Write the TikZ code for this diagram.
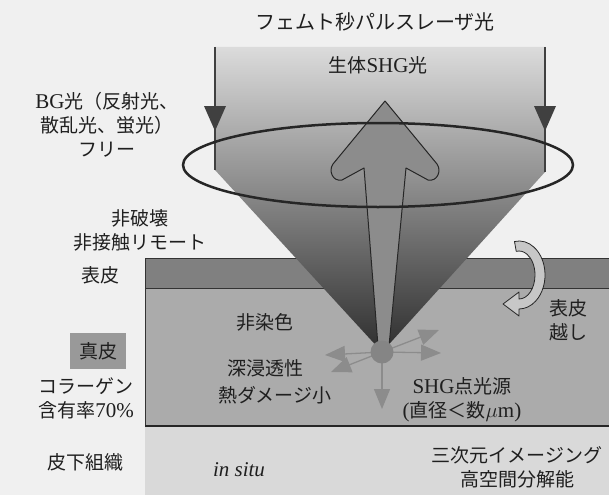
\documentclass[tikz,border=0pt]{standalone}
\usepackage{fontspec}
\setmainfont{Liberation Serif}
\newfontfamily\jp{Noto Sans CJK JP}
\newcommand\latn[1]{{\rmfamily\fontsize{21}{24}\selectfont #1}}
\usetikzlibrary{arrows.meta}
\begin{document}
\begin{tikzpicture}[x=1pt,y=-1pt,
  lbl/.style={font={\jp\fontsize{19}{24}\selectfont}, align=center, inner sep=0pt, text=black!88},
  layer/.style={draw=black!80, line width=0.6pt},
  sarrow/.style={black!45, line width=1.3pt, -{Triangle[length=20pt,width=16pt]}},
  pointer/.style={fill=black!75, draw=none}]
\useasboundingbox (0,0) rectangle (609,495);
\fill[black!6] (0,0) rectangle (609,495);

% skin layers
\fill[black!15] (145,426) rectangle (609,495);
\filldraw[layer, fill=black!33] (145,288) rectangle (609,426);
\filldraw[layer, fill=black!50] (145,258) rectangle (609,288);
\draw[black!85, line width=1.5pt] (145,426) -- (609,426);

% focused laser beam
\shade[top color=black!14, middle color=black!42, bottom color=black!82]
  (215,47) -- (545,47) -- (545,172) -- (382,352) -- (215,170) -- cycle;
\draw[line width=2pt, black!75] (215,47) -- (215,170);
\draw[line width=2pt, black!75] (545,47) -- (545,172);
\fill[pointer] (204,106) -- (226,106) -- (215,131) -- cycle;
\fill[pointer] (534,106) -- (556,106) -- (545,131) -- cycle;

% SHG signal arrow
\filldraw[fill=black!45, draw=black!85, line width=1pt, line join=round]
  (385,101) -- (437,164) .. controls (442,171) and (437,182) .. (428,180)
  -- (406,168) -- (389,346) -- (378,346) -- (364,168)
  -- (342,180) .. controls (333,182) and (328,171) .. (333,164) -- cycle;

% point source and emitted light
\coordinate (focus) at (382,352);
\coordinate (eL) at (325,355);
\coordinate (eLL) at (331,372);
\coordinate (eD) at (382,409);
\coordinate (eR) at (441,353);
\coordinate (eUR) at (439,330);
\draw[sarrow] (focus) -- (eL);
\draw[sarrow] (focus) -- (eLL);
\draw[sarrow] (focus) -- (eD);
\draw[sarrow] (focus) -- (eR);
\draw[sarrow] (focus) -- (eUR);
\node[circle, fill=black!48, minimum size=23pt, inner sep=0pt] (spot) at (focus) {};

% collecting lens
\draw[line width=2.5pt, black!85] (378,165) ellipse [x radius=195, y radius=42];

% curved arrow through the epidermis
\filldraw[fill=black!22, draw=black!85, line width=0.8pt, line join=round]
  (514.5,241.5) arc[start angle=-100, end angle=90, x radius=26, y radius=34]
  -- (519,316) -- (503,304) -- (519,292) -- (519,299)
  arc[start angle=90, end angle=-100, x radius=16, y radius=24] -- cycle;

% labels
\node[lbl, font={\jp\fontsize{20}{24}\selectfont}] (title) at (375,22) {フェムト秒パルスレーザ光};
\node[lbl] (shgtxt) at (378,65) {生体\latn{SHG}光};
\node[lbl] (bg) at (107,125) {\latn{BG}光（反射光、\\散乱光、蛍光）\\フリー};
\node[lbl] (nd) at (140,230) {非破壊\\非接触リモート};
\node[lbl] (epi) at (100,275) {表皮};
\node[lbl, fill=black!40, minimum width=56pt, minimum height=36pt] (derm) at (98,351) {真皮};
\node[lbl] (coll) at (86,398) {コラーゲン\\含有率\latn{70\%}};
\node[lbl] (sub) at (85,462) {皮下組織};
\node[lbl] (ns) at (265,322) {非染色};
\node[lbl] (deep) at (265,368) {深浸透性};
\node[lbl] (heat) at (275,395) {熱ダメージ小};
\node[lbl] (insitu) at (239,470) {\latn{\itshape in situ}};
\node[lbl] (through) at (568,320) {表皮\\越し};
\node[lbl] (src) at (462,400) {\latn{SHG}点光源\\\latn{(}直径＜数\latn{$\mu$m)}};
\node[lbl] (img3d) at (517,467) {三次元イメージング\\高空間分解能};
\end{tikzpicture}
\end{document}
